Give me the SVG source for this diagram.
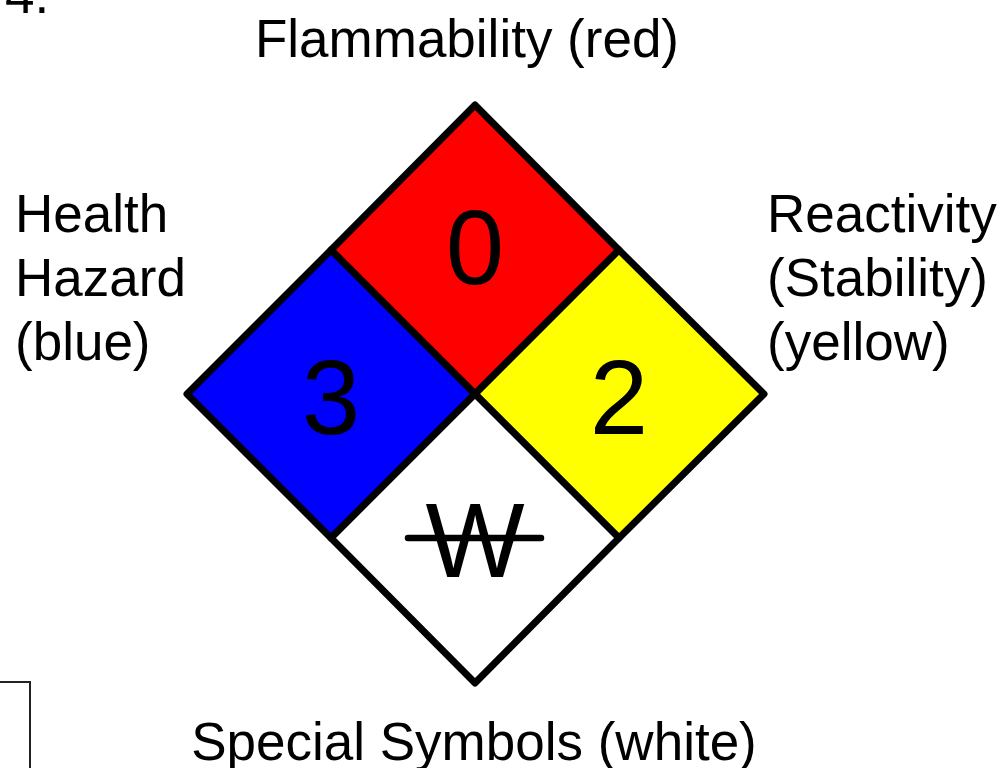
<svg xmlns="http://www.w3.org/2000/svg" width="1000" height="768" viewBox="0 0 1000 768">
<style>
.lbl{font-family:"Liberation Sans",Arial,sans-serif;font-size:53px;fill:#000}
.num{font-family:"Liberation Sans",Arial,sans-serif;font-size:105px;fill:#000;text-anchor:middle}
.q{stroke:#000;stroke-width:7;stroke-linejoin:round}
</style>
<rect width="1000" height="768" fill="#fff"/>
<text class="lbl" x="5" y="13">4.</text>
<g id="frame"><polyline points="0,682 30,682 30,768" fill="none" stroke="#222" stroke-width="2"/></g>
<g id="flammability">
<polygon class="q" points="475,105 619,250 475,394 331,250" fill="#ff0000"/>
<text class="num" x="475" y="284">0</text>
</g>
<g id="health">
<polygon class="q" points="331,250 475,394 331,538 187,394" fill="#0000ff"/>
<text class="num" x="331" y="434">3</text>
</g>
<g id="reactivity">
<polygon class="q" points="619,250 764,394 619,538 475,394" fill="#ffff00"/>
<text class="num" x="619" y="434">2</text>
</g>
<g id="special">
<polygon class="q" points="475,394 619,538 475,683 331,538" fill="#fff"/>
<text class="num" x="475" y="577">W</text>
<line x1="408" y1="538" x2="541" y2="538" stroke="#000" stroke-width="6.5" stroke-linecap="round"/>
</g>
<g id="labels">
<text class="lbl" x="467" y="57" text-anchor="middle">Flammability (red)</text>
<text class="lbl" x="15" y="232">Health</text>
<text class="lbl" x="15" y="296">Hazard</text>
<text class="lbl" x="15" y="360">(blue)</text>
<text class="lbl" x="767" y="232">Reactivity</text>
<text class="lbl" x="767" y="296">(Stability)</text>
<text class="lbl" x="767" y="360">(yellow)</text>
<text class="lbl" x="474" y="760" text-anchor="middle">Special Symbols (white)</text>
</g>
</svg>
